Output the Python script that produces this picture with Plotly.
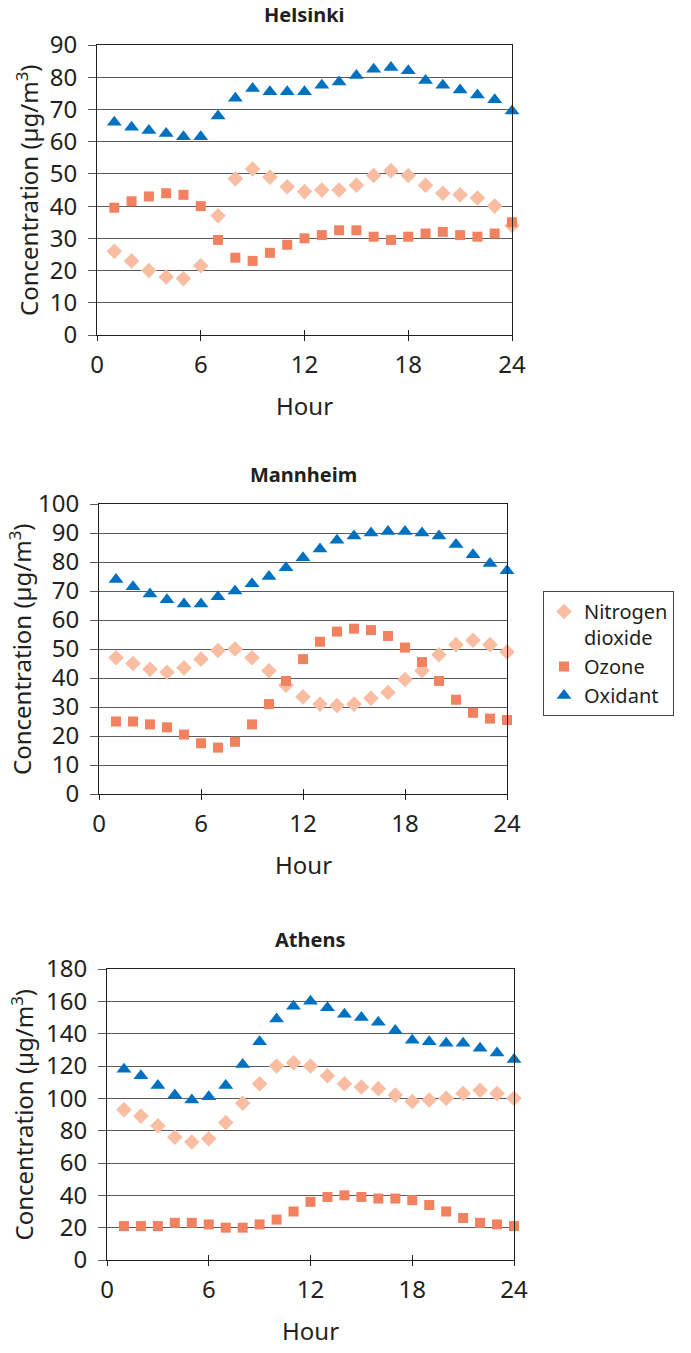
import plotly.graph_objects as go

W, H = 691, 1353
OFF = 8  # page body margin

HOURS = list(range(1, 25))

HEL_NO2 = [26, 23, 20, 18, 17.5, 21.5, 37, 48.5, 51.5, 49, 46, 44.5, 45, 45, 46.5, 49.5, 51, 49.5, 46.5, 44, 43.5, 42.5, 40, 34]
HEL_O3 = [39.5, 41.5, 43, 44, 43.5, 40, 29.5, 24, 23, 25.5, 28, 30, 31, 32.5, 32.5, 30.5, 29.5, 30.5, 31.5, 32, 31, 30.5, 31.5, 35]
HEL_OX = [66, 64.5, 63.5, 62.5, 61.5, 61.5, 68, 73.5, 76.5, 75.5, 75.5, 75.5, 77.5, 78.5, 80.5, 82.5, 83, 82, 79, 77.5, 76, 74.5, 73, 69.5]

MAN_NO2 = [47, 45, 43, 42, 43.5, 46.5, 49.5, 50, 47, 42.5, 37.5, 33.5, 31, 30.5, 31, 33, 35, 39.5, 42.5, 48, 51.5, 53, 51.5, 49]
MAN_O3 = [25, 25, 24, 23, 20.5, 17.5, 16, 18, 24, 31, 39, 46.5, 52.5, 56, 57, 56.5, 54.5, 50.5, 45.5, 39, 32.5, 28, 26, 25.5]
MAN_OX = [74, 71.5, 69, 67, 65.5, 65.5, 68, 70, 72.5, 75, 78, 81.5, 84.5, 87.5, 89, 90, 90.5, 90.5, 90, 89, 86, 82.5, 79.5, 77]

ATH_NO2 = [93, 89, 83, 76, 73, 75, 85, 97, 109, 120, 122, 120, 114, 109, 107, 106, 102, 98, 99, 100, 103, 105, 103, 100]
ATH_O3 = [21, 21, 21, 23, 23, 22, 20, 20, 22, 25, 30, 36, 39, 40, 39, 38, 38, 37, 34, 30, 26, 23, 22, 21]
ATH_OX = [118, 114, 108, 102, 99, 101, 108, 121, 135, 149, 157, 160, 156, 152, 150, 147, 142, 136, 135, 134, 134, 131, 128, 124]

CITIES = ["Helsinki", "Mannheim", "Athens"]
SERIES = ["Nitrogen<br>dioxide", "Ozone", "Oxidant"]
X_TICKS = [0, 6, 12, 18, 24]
Y_MAX = [90, 100, 180]
Y_STEP = [10, 10, 20]

NO2_C = "#F9BEA2"
O3_C = "#F2825F"
OX_C = "#0070C0"
DARK = "#231F20"
GRID = "#5A5A5A"
FONT = "Noto Sans"

# plot boxes in page pixels: left, right, top, bottom
BOXES = [(97, 512, 45, 335), (99, 507, 504, 794), (107, 514, 969, 1260)]
YTITLE_X = [27, 20, 22]


def px(x):
    return (x - OFF) / W


def py(y):
    return 1 - (y - OFF) / H


data = [
    (HEL_NO2, HEL_O3, HEL_OX),
    (MAN_NO2, MAN_O3, MAN_OX),
    (ATH_NO2, ATH_O3, ATH_OX),
]
styles = [
    dict(symbol="diamond", size=12, color=NO2_C),
    dict(symbol="square", size=10, color=O3_C),
    dict(symbol="triangle-up", size=13, color=OX_C),
]

fig = go.Figure()
layout = {}
annotations = []

for i, city in enumerate(CITIES):
    l, r, t, b = BOXES[i]
    sfx = "" if i == 0 else str(i + 1)
    for j, name in enumerate(SERIES):
        fig.add_trace(
            go.Scatter(
                x=HOURS,
                y=data[i][j],
                mode="markers",
                name=name,
                marker=dict(symbol=styles[j]["symbol"], size=styles[j]["size"],
                            color=styles[j]["color"], line=dict(width=0)),
                xaxis="x" + sfx,
                yaxis="y" + sfx,
                cliponaxis=False,
                showlegend=(i == 1),
            )
        )
    layout["xaxis" + sfx] = dict(
        domain=[px(l), px(r)],
        anchor="y" + sfx,
        range=[0, 24],
        tickvals=X_TICKS,
        ticks="outside",
        ticklen=5,
        tickcolor=DARK,
        showline=True,
        linecolor=DARK,
        linewidth=1,
        mirror=True,
        showgrid=False,
        zeroline=False,
        automargin=False,
        ticklabelstandoff=3,
        tickfont=dict(size=24, color=DARK),
    )
    # second x axis only for the inner half of the crossing tick marks
    layout["xaxis" + str(i + 4)] = dict(
        domain=[px(l), px(r)],
        anchor="y" + sfx,
        overlaying="x" + sfx,
        range=[0, 24],
        tickvals=X_TICKS,
        ticks="inside",
        ticklen=5,
        tickcolor=DARK,
        showticklabels=False,
        showgrid=False,
        zeroline=False,
        automargin=False,
    )
    layout["yaxis" + sfx] = dict(
        domain=[py(b), py(t)],
        anchor="x" + sfx,
        range=[0, Y_MAX[i]],
        dtick=Y_STEP[i],
        ticks="outside",
        ticklen=8,
        tickcolor=GRID,
        showline=True,
        linecolor=DARK,
        linewidth=1,
        mirror=True,
        showgrid=True,
        gridcolor=GRID,
        gridwidth=1,
        zeroline=False,
        automargin=False,
        ticklabelstandoff=6,
        tickfont=dict(size=24, color=DARK),
    )
    annotations.append(dict(
        text="<b>" + city + "</b>", x=px((l + r) / 2), y=py(t - 30),
        xref="paper", yref="paper", showarrow=False,
        font=dict(size=20, color=DARK), xanchor="center", yanchor="middle",
    ))
    annotations.append(dict(
        text="Hour", x=px((l + r) / 2), y=py(b + 70),
        xref="paper", yref="paper", showarrow=False,
        font=dict(size=24, color=DARK), xanchor="center", yanchor="middle",
    ))
    annotations.append(dict(
        text="Concentration (µg/m<sup>3</sup>)", x=px(YTITLE_X[i]), y=py((t + b) / 2),
        xref="paper", yref="paper", showarrow=False, textangle=-90,
        font=dict(size=24, color=DARK), xanchor="center", yanchor="middle",
    ))

# dummy trace to make the overlay axes render their ticks
for i in range(3):
    fig.add_trace(go.Scatter(x=[None], y=[None], xaxis="x" + str(i + 4),
                             yaxis="y" + ("" if i == 0 else str(i + 1)),
                             showlegend=False, hoverinfo="skip"))

fig.update_layout(
    **layout,
    width=W,
    height=H,
    margin=dict(l=0, r=0, t=0, b=0, autoexpand=False),
    paper_bgcolor="white",
    plot_bgcolor="white",
    font=dict(family=FONT, color=DARK),
    annotations=annotations,
    legend=dict(
        x=px(543), y=py(591), xanchor="left", yanchor="top",
        bordercolor="#444444", borderwidth=1,
        font=dict(size=20, color=DARK),
        valign="top", tracegroupgap=0, itemwidth=30,
    ),
)

fig.write_html("out.html")
